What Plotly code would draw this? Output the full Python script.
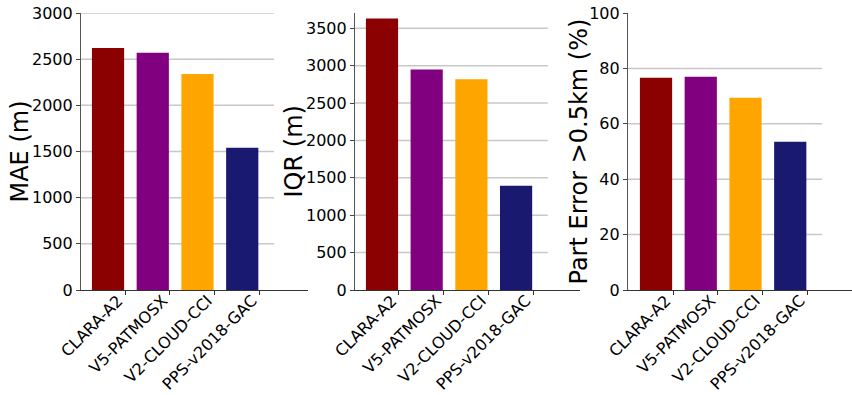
import plotly.graph_objects as go

# Cloud-top height validation scores per dataset
datasets = ["CLARA-A2", "V5-PATMOSX", "V2-CLOUD-CCI", "PPS-v2018-GAC"]
colors = ["#8B0000", "#800080", "#FFA500", "#191970"]

mae_m = [2620, 2570, 2340, 1540]
iqr_m = [3630, 2950, 2820, 1395]
part_err_pct = [76.6, 77.0, 69.4, 53.5]

panel_titles = ["MAE (m)", "IQR (m)", "Part Error >0.5km (%)"]
y_ranges = [[0, 3000], [0, 3705], [0, 100]]
y_ticks = [[0, 500, 1000, 1500, 2000, 2500, 3000],
           [0, 500, 1000, 1500, 2000, 2500, 3000, 3500],
           [0, 20, 40, 60, 80, 100]]
grid_levels = [[500, 1000, 1500, 2000, 2500, 3000],
               [500, 1000, 1500, 2000, 2500, 3000, 3500],
               [20, 40, 60, 80]]
series = [mae_m, iqr_m, part_err_pct]

W, H = 852, 395
x_domains = [[81 / W, 308 / W], [355 / W, 580 / W], [628 / W, 1.0]]
x_ranges = [[-0.604, 4.47], [-0.604, 4.43], [-0.626, 4.38]]
y_domain = [(H - 290) / H, (H - 13) / H]
title_x = [19 / W, 293 / W, 578 / W]

bar_width = 0.72
tick_offset = 0.38
grid_end = 3.71
positions = list(range(len(datasets)))

fig = go.Figure()
layout = dict(
    width=W, height=H,
    margin=dict(l=0, r=0, t=0, b=0, autoexpand=False),
    paper_bgcolor="white", plot_bgcolor="white",
    showlegend=False,
    font=dict(family="DejaVu Sans", size=16, color="black"),
    shapes=[], annotations=[],
)

for k in range(3):
    sfx = "" if k == 0 else str(k + 1)
    xa, ya = "x" + sfx, "y" + sfx
    fig.add_trace(go.Bar(
        x=positions, y=series[k], width=bar_width,
        marker=dict(color=colors, line=dict(width=0)),
        xaxis=xa, yaxis=ya, hoverinfo="x+y",
    ))
    layout["xaxis" + sfx] = dict(
        domain=x_domains[k], range=x_ranges[k], anchor=ya,
        automargin=False,
        tickmode="array",
        tickvals=[p + tick_offset for p in positions], ticktext=datasets,
        tickangle=-45, ticks="outside", ticklen=4, tickcolor="#333333",
        ticklabelstandoff=-10, ticklabelshift=-7,
        showline=True, linecolor="#333333", linewidth=1.2,
        showgrid=False, zeroline=False,
        tickfont=dict(size=16, color="black"),
    )
    layout["yaxis" + sfx] = dict(
        domain=y_domain, range=y_ranges[k], anchor=xa,
        automargin=False,
        tickmode="array", tickvals=y_ticks[k],
        ticks="outside", ticklen=4, tickcolor="#444444",
        showline=True, linecolor="#555555", linewidth=1.2,
        showgrid=False, zeroline=False,
        tickfont=dict(size=16, color="black"),
    )
    for g in grid_levels[k]:
        layout["shapes"].append(dict(
            type="line", xref=xa, yref=ya, layer="below",
            x0=x_ranges[k][0], x1=grid_end, y0=g, y1=g,
            line=dict(color="#c8c8c8", width=1.5),
        ))
    layout["annotations"].append(dict(
        text=panel_titles[k], textangle=-90, showarrow=False,
        xref="paper", yref="paper",
        x=title_x[k], y=(y_domain[0] + y_domain[1]) / 2,
        xanchor="center", yanchor="middle",
        font=dict(size=24, color="black"),
    ))

fig.update_layout(**layout)
fig.write_html("out.html")
